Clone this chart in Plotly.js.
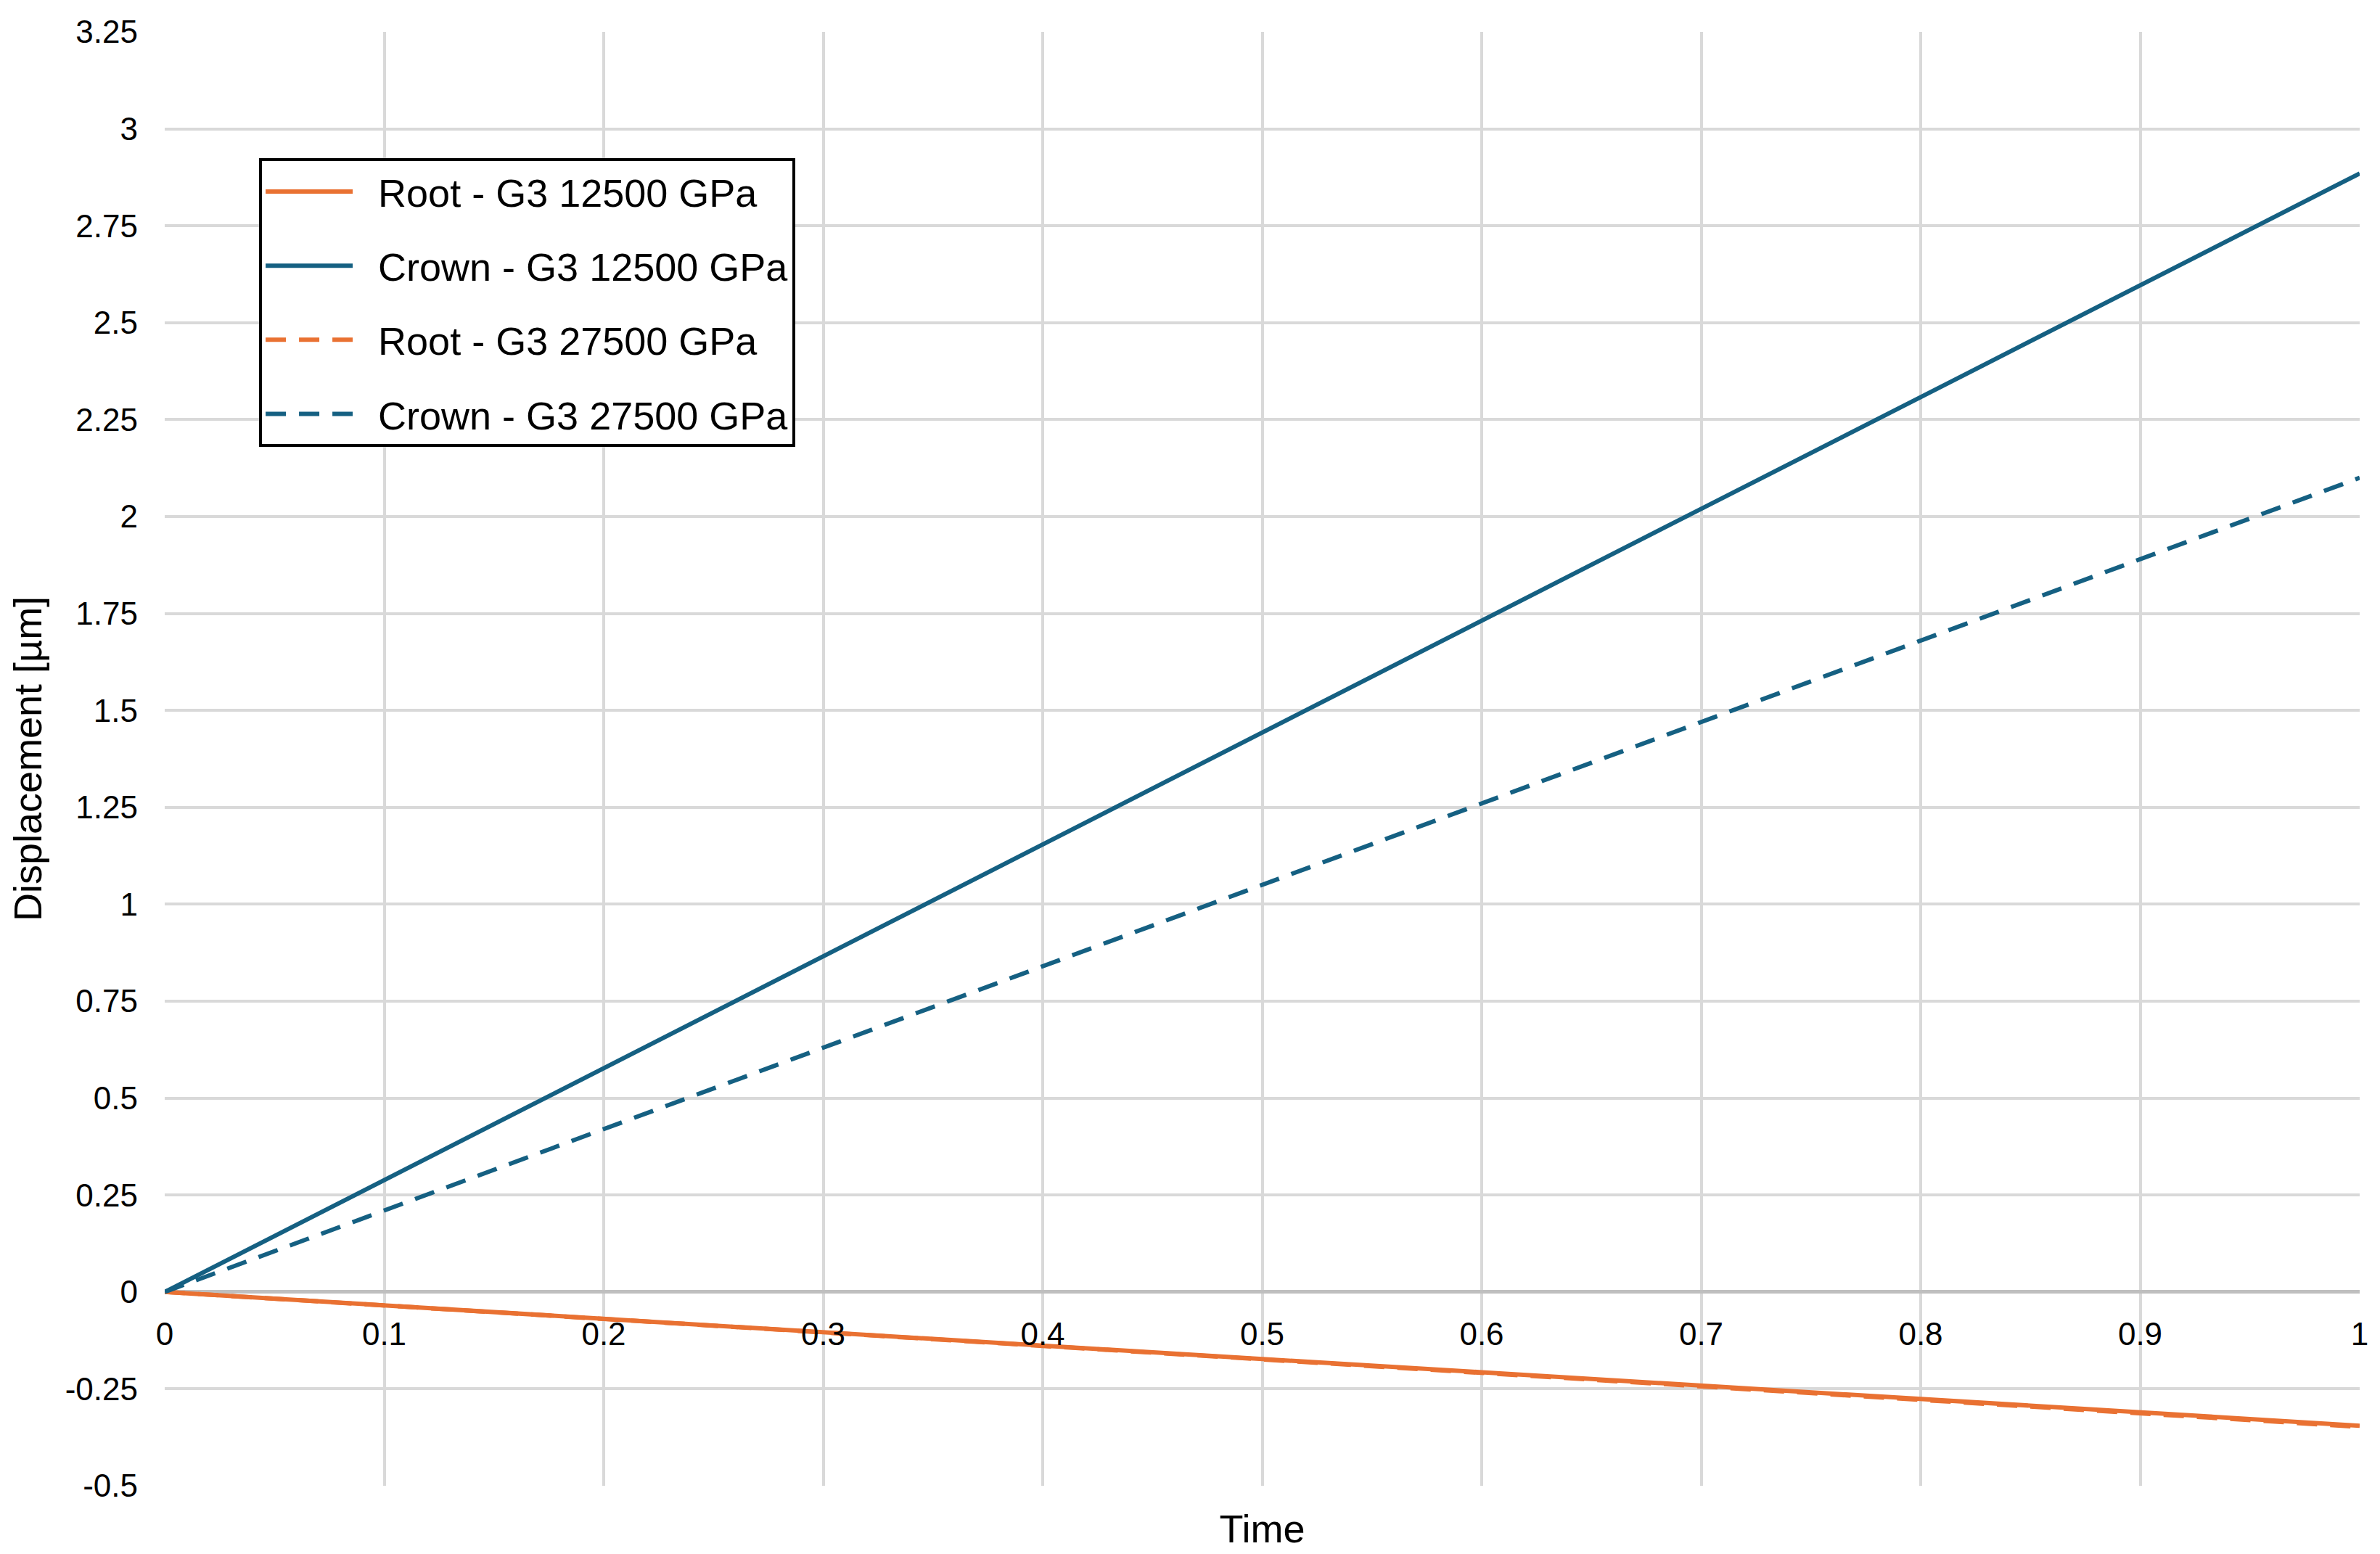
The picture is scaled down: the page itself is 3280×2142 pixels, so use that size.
<!DOCTYPE html>
<html>
<head>
<meta charset="utf-8">
<script src="https://cdn.plot.ly/plotly-3.0.1.min.js"></script>
<style>
  html, body { margin: 0; padding: 0; background: #fff; }
  #chart { width: 3280px; height: 2142px; }
</style>
</head>
<body>
<div id="chart"></div>
<script>
/* displacement vs time, root and crown, two G3 moduli */
var time = [0, 0.1, 0.2, 0.3, 0.4, 0.5, 0.6, 0.7, 0.8, 0.9, 1];

var root12500  = [0, -0.035, -0.069, -0.104, -0.138, -0.173, -0.207, -0.242, -0.276, -0.311, -0.345];
var crown12500 = [0, 0.289, 0.577, 0.866, 1.154, 1.443, 1.731, 2.020, 2.308, 2.597, 2.885];
var root27500  = [0, -0.035, -0.070, -0.105, -0.139, -0.174, -0.209, -0.244, -0.278, -0.313, -0.348];
var crown27500 = [0, 0.210, 0.420, 0.630, 0.840, 1.050, 1.260, 1.470, 1.680, 1.890, 2.100];

var names = ['Root - G3 12500 GPa', 'Crown - G3 12500 GPa',
             'Root - G3 27500 GPa', 'Crown - G3 27500 GPa'];

var xTicks = [0, 0.1, 0.2, 0.3, 0.4, 0.5, 0.6, 0.7, 0.8, 0.9, 1];
var yTicks = [-0.5, -0.25, 0, 0.25, 0.5, 0.75, 1, 1.25, 1.5, 1.75, 2, 2.25, 2.5, 2.75, 3, 3.25];

var orange = '#E97132';
var teal = '#156082';
var dashed = '28px,18px';

function makeTrace(y, i, color, dash) {
    return {
        x: time,
        y: y,
        // nbsp keeps a little room between the legend sample and the text
        name: '\u00A0\u00A0' + names[i],
        legendgroup: 'g' + i,
        mode: 'lines',
        type: 'scatter',
        line: { color: color, width: 6, dash: dash }
    };
}

var data = [
    makeTrace(root12500, 0, orange, 'solid'),
    makeTrace(crown12500, 1, teal, 'solid'),
    makeTrace(root27500, 2, orange, dashed),
    makeTrace(crown27500, 3, teal, dashed)
];

var yMin = -0.5, yMax = 3.25;

var layout = {
    width: 3280,
    height: 2142,
    paper_bgcolor: '#fff',
    plot_bgcolor: '#fff',
    margin: { l: 227, r: 28, t: 44, b: 94 },
    font: { family: 'Liberation Sans, Arial, sans-serif', color: '#000' },
    showlegend: true,
    legend: {
        x: 0.043, y: 0.913, xanchor: 'left', yanchor: 'top',
        bgcolor: '#fff',
        bordercolor: '#000',
        borderwidth: 4,
        font: { size: 54, color: '#000' },
        itemwidth: 120,
        tracegroupgap: 29,
        traceorder: 'grouped'
    },
    xaxis: {
        range: [0, 1],
        tickvals: xTicks,
        ticktext: xTicks.map(String),
        anchor: 'free',
        position: (0 - yMin) / (yMax - yMin),
        showline: false,
        zeroline: false,
        showgrid: true,
        gridcolor: '#d9d9d9',
        gridwidth: 4,
        ticks: '',
        ticklabelstandoff: 28,
        tickfont: { size: 44, color: '#000' },
        title: { text: 'Time', font: { size: 54, color: '#000' }, standoff: 226 }
    },
    yaxis: {
        range: [yMin, yMax],
        tickvals: yTicks,
        ticktext: yTicks.map(String),
        showline: false,
        zeroline: true,
        zerolinecolor: '#bfbfbf',
        zerolinewidth: 5,
        showgrid: true,
        gridcolor: '#d9d9d9',
        gridwidth: 4,
        ticks: '',
        ticklabelstandoff: 36,
        tickfont: { size: 44, color: '#000' },
        title: { text: 'Displacement [µm]', font: { size: 54, color: '#000' }, standoff: 14 }
    }
};

Plotly.newPlot('chart', data, layout, { displayModeBar: false, staticPlot: true });
</script>
</body>
</html>
